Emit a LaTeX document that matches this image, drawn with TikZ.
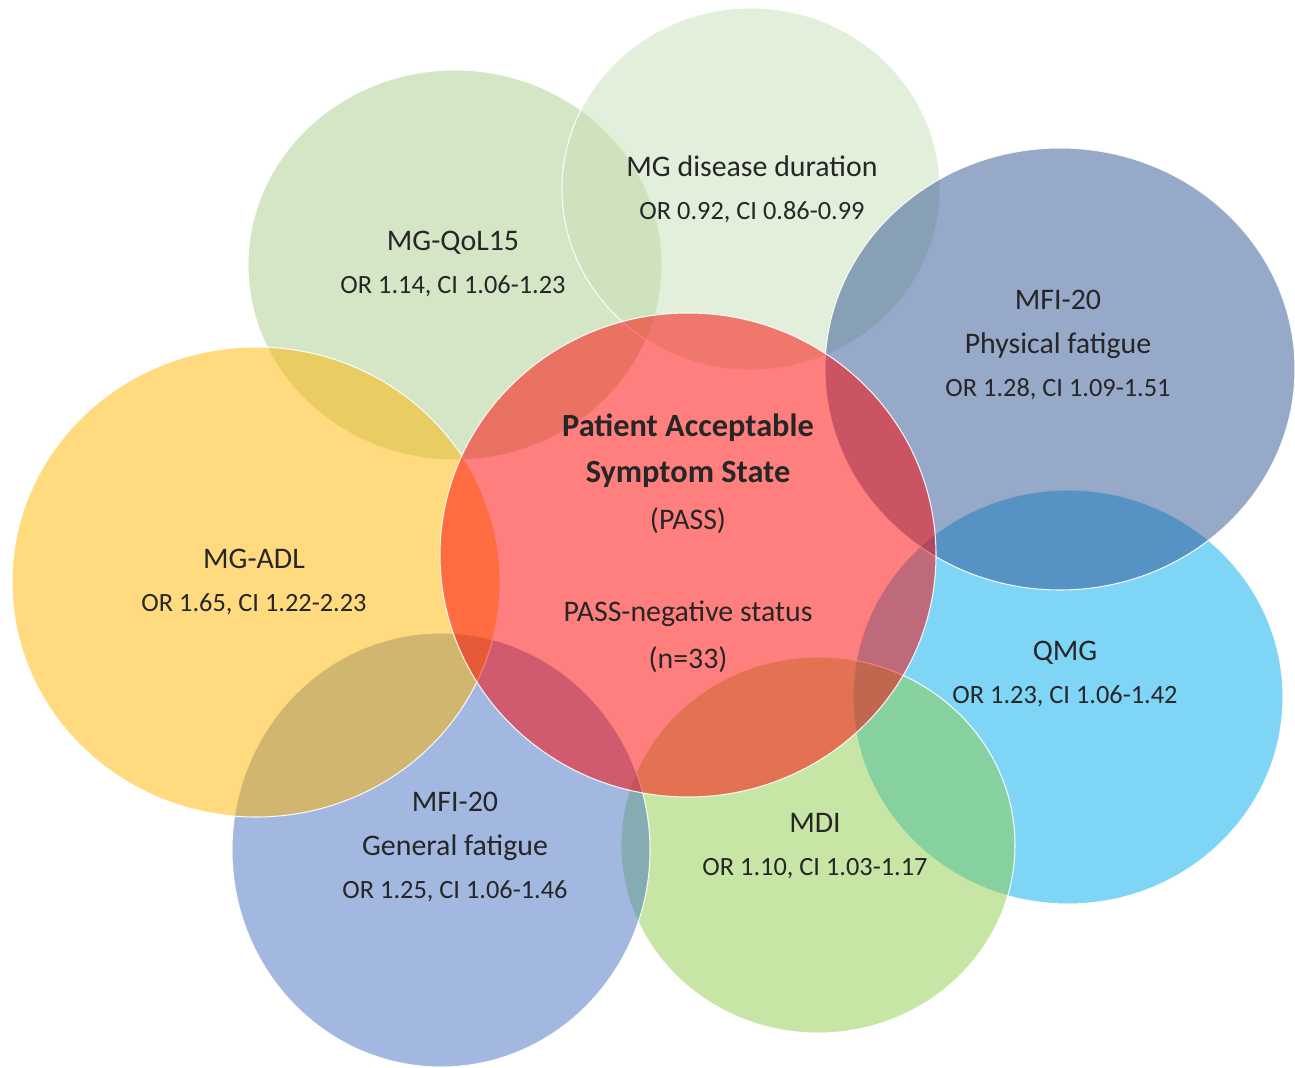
\documentclass[tikz,border=0pt]{standalone}
\usepackage{fontspec}
\setmainfont{Carlito}
\usepackage{tikz}

\definecolor{qolgreen}{RGB}{171,205,141}
\definecolor{durgreen}{RGB}{197,223,181}
\definecolor{physblue}{RGB}{47,83,147}
\definecolor{qmgblue}{RGB}{0,171,235}
\definecolor{mdigreen}{RGB}{143,205,77}
\definecolor{genblue}{RGB}{69,113,193}
\definecolor{adlyellow}{RGB}{255,181,0}
\definecolor{passred}{RGB}{255,0,0}

\newcommand{\bubtitle}[1]{{\fontsize{17}{24.5}\selectfont #1}}

\begin{document}
\begin{tikzpicture}[x=0.02cm, y=-0.02cm,
    bubble/.style={fill opacity=.5, draw=white, draw opacity=.9, line width=.6pt},
    lbl/.style={align=center, text=black!85, font=\fontsize{15}{24.5}\selectfont}]
        \useasboundingbox (0,0) rectangle (1295,1068);

        % circles, back to front
        \draw[bubble, fill=qolgreen] (455,265) ellipse [x radius=207, y radius=195];  %MG-QoL15
        \draw[bubble, fill=durgreen] (751,189) ellipse [x radius=189, y radius=181];  %duration
        \draw[bubble, fill=qmgblue] (1068,697) ellipse [x radius=215, y radius=207];  %QMG
        \draw[bubble, fill=physblue] (1060,369) ellipse [x radius=235, y radius=221];  %MFI physical
        \draw[bubble, fill=mdigreen] (818,845) ellipse [x radius=197, y radius=188];  %MDI
        \draw[bubble, fill=genblue] (441,850) ellipse [x radius=209, y radius=217];  %MFI general
        \draw[bubble, fill=adlyellow] (256,582) ellipse [x radius=244, y radius=235];  %MG-ADL
        \draw[bubble, fill=passred] (688,555) ellipse [x radius=248, y radius=242];  %PASS

        % labels
        \node[lbl] (qol) at (453,264) {\bubtitle{MG-QoL15}\\ OR 1.14, CI 1.06-1.23};
        \node[lbl] (dur) at (752,189) {\bubtitle{MG disease duration}\\ OR 0.92, CI 0.86-0.99};
        \node[lbl] (mfip) at (1058,345) {\bubtitle{MFI-20}\\ \bubtitle{Physical fatigue}\\ OR 1.28, CI 1.09-1.51};
        \node[lbl] (qmg) at (1065,674) {\bubtitle{QMG}\\ OR 1.23, CI 1.06-1.42};
        \node[lbl] (mdi) at (815,846) {\bubtitle{MDI}\\ OR 1.10, CI 1.03-1.17};
        \node[lbl] (mfig) at (455,847) {\bubtitle{MFI-20}\\ \bubtitle{General fatigue}\\ OR 1.25, CI 1.06-1.46};
        \node[lbl] (adl) at (254,582) {\bubtitle{MG-ADL}\\ OR 1.65, CI 1.22-2.23};
        \node[lbl, font=\fontsize{17}{26.5}\selectfont] (pass) at (688,543)
            {{\fontsize{18.4}{26.5}\selectfont\bfseries Patient Acceptable}\\
             {\fontsize{18.4}{26.5}\selectfont\bfseries Symptom State}\\ (PASS)\\[26pt]
             PASS-negative status\\ (n=33)};
      \end{tikzpicture}
\end{document}
